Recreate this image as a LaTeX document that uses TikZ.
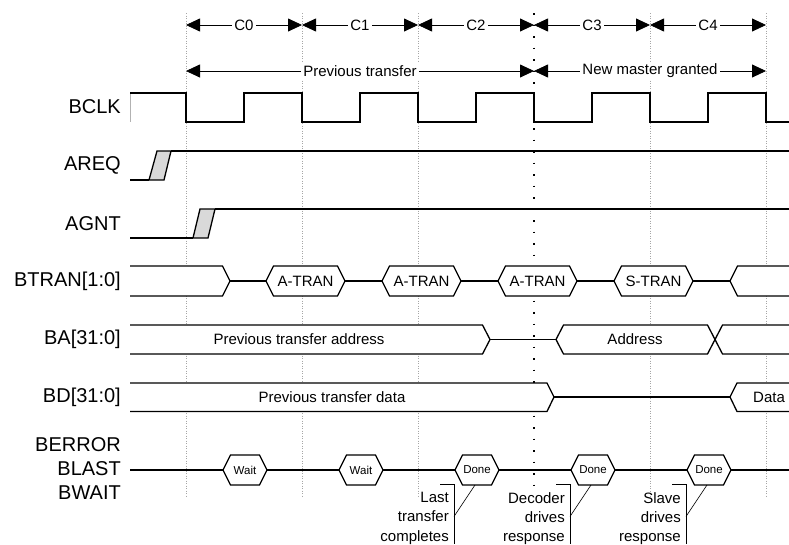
\documentclass[tikz,border=0pt]{standalone}
\usepackage{fontspec}
\setmainfont{Liberation Sans}
\usetikzlibrary{arrows.meta}
\begin{document}
\begin{tikzpicture}[x=1pt,y=-1pt,
  sig/.style={line width=1.3pt, line join=miter},
  bus/.style={sig, fill=white},
  gridline/.style={gray!70, line width=0.7pt, dash pattern=on 0.8pt off 1.7pt},
  dotline/.style={black, line width=1.5pt, dash pattern=on 1.5pt off 10pt},
  dim/.style={line width=0.8pt, {Triangle[length=14pt,width=13pt]}-{Triangle[length=14pt,width=13pt]}},
  dimlbl/.style={fill=white, inner sep=2pt, font=\fontsize{15}{18}\selectfont},
  siglbl/.style={anchor=east, inner sep=0pt, font=\fontsize{20}{24}\selectfont},
  bustxt/.style={inner sep=0pt, font=\fontsize{15}{18}\selectfont},
  smalltxt/.style={inner sep=0pt, font=\fontsize{11.5}{13}\selectfont},
  note/.style={anchor=north east, align=right, inner sep=0pt, font=\fontsize{15}{19.3}\selectfont},
  callout/.style={line width=0.9pt},
  leader/.style={line width=0.6pt},
  trans/.style={sig, fill=gray!30}
  ]
\useasboundingbox (0,0) rectangle (789,544);

% grid lines
\foreach \x in {186,302,418,650,766} {
  \draw[gridline] (\x,13) -- (\x,496);
}
\draw[dotline] (534,13) -- (534,492);

% top dimension arrows
\foreach \i/\x in {0/186,1/302,2/418,3/534,4/650,5/766} {
  \coordinate (a\i) at (\x,25);
  \coordinate (b\i) at (\x,71);
}
\draw[dim] (a0) -- node[dimlbl] (c0) {C0} (a1);
\draw[dim] (a1) -- node[dimlbl] (c1) {C1} (a2);
\draw[dim] (a2) -- node[dimlbl] (c2) {C2} (a3);
\draw[dim] (a3) -- node[dimlbl] (c3) {C3} (a4);
\draw[dim] (a4) -- node[dimlbl] (c4) {C4} (a5);
\draw[dim] (b0) -- node[dimlbl] (pt) {Previous transfer} (b3);
\draw[dim] (b3) -- node[dimlbl] (nm) {New master granted} (b5);

% signal labels
\node[siglbl] (lclk) at (121,107) {BCLK};
\node[siglbl] (lreq) at (121,165.5) {AREQ};
\node[siglbl] (lgnt) at (121,223.5) {AGNT};
\node[siglbl] (ltran) at (121,281) {BTRAN[1:0]};
\node[siglbl] (lba) at (121,339.5) {BA[31:0]};
\node[siglbl] (lbd) at (121,397) {BD[31:0]};
\node[siglbl] (lerr) at (121,445) {BERROR};
\node[siglbl] (llast) at (121,469) {BLAST};
\node[siglbl] (lwait) at (121,493) {BWAIT};

% BCLK
\draw[gray!60, line width=0.5pt] (130,93) -- (130,122);
\draw[sig] (130,93) -- (186,93) -- (186,122) -- (244,122) -- (244,93) -- (302,93) -- (302,122)
  -- (360,122) -- (360,93) -- (418,93) -- (418,122) -- (476,122) -- (476,93) -- (534,93)
  -- (534,122) -- (592,122) -- (592,93) -- (650,93) -- (650,122) -- (708,122) -- (708,93)
  -- (766,93) -- (766,122) -- (789,122);

% AREQ
\draw[sig] (130,180) -- (149,180);
\draw[trans] (149,180) -- (157,151) -- (171,151) -- (164,180) -- cycle;
\draw[sig] (171,151) -- (789,151);

% AGNT
\draw[sig] (130,238) -- (193,238);
\draw[trans] (193,238) -- (200,209) -- (215,209) -- (208,238) -- cycle;
\draw[sig] (215,209) -- (789,209);

% BTRAN
\draw[sig] (230,281) -- (730,281);
\draw[bus] (130,266) -- (222.5,266) -- (230,281) -- (222.5,296) -- (130,296);
\foreach \x/\t [count=\k] in {266/A-TRAN, 382/A-TRAN, 498/A-TRAN, 614/S-TRAN} {
  \draw[bus] (\x,281) -- ++(7.5,-15) -- ++(64,0) -- ++(7.5,15) -- ++(-7.5,15) -- ++(-64,0) -- cycle;
  \node[bustxt] (tr\k) at (\x+39.5,281) {\t};
}
\draw[bus] (789,266) -- (737.5,266) -- (730,281) -- (737.5,296) -- (789,296);

% BA
\draw[sig] (490,339.5) -- (556,339.5);
\draw[bus] (130,325) -- (482.5,325) -- (490,339.5) -- (482.5,354) -- (130,354);
\node[bustxt] (pta) at (299,339.5) {Previous transfer address};
\draw[bus] (556,339.5) -- (563.5,325) -- (707.5,325) -- (715,339.5) -- (707.5,354) -- (563.5,354) -- cycle;
\node[bustxt] (adr) at (635,339.5) {Address};
\draw[bus] (789,325) -- (722.5,325) -- (715,339.5) -- (722.5,354) -- (789,354);

% BD
\draw[sig] (554,397) -- (730,397);
\draw[bus] (130,383) -- (547,383) -- (554,397) -- (547,411.5) -- (130,411.5);
\node[bustxt] (ptd) at (332,397) {Previous transfer data};
\draw[bus] (789,383) -- (737,383) -- (730,397) -- (737,411.5) -- (789,411.5);
\node[bustxt] (dat) at (769,397) {Data};

% BERROR / BLAST / BWAIT
\draw[sig] (130,470) -- (789,470);
\foreach \x/\t [count=\k] in {223/Wait, 339/Wait, 455/Done, 571/Done, 687/Done} {
  \draw[bus] (\x,470) -- ++(7.5,-15) -- ++(29,0) -- ++(7.5,15) -- ++(-7.5,15) -- ++(-29,0) -- cycle;
  \node[smalltxt] (h\k) at (\x+22,470) {\t};
}

% callouts
\foreach \x in {455,571,687} {
  \draw[callout] (\x-15,484) -- (\x-1,484) -- (\x-1,544);
  \draw[leader] (\x-1,516.5) -- (\x+20,485);
}
\node[note] (n1) at (449,492) {Last\\transfer\\completes};
\node[note] (n2) at (565,492) {Decoder\\drives\\response};
\node[note] (n3) at (681,492) {Slave\\drives\\response};
\end{tikzpicture}
\end{document}
